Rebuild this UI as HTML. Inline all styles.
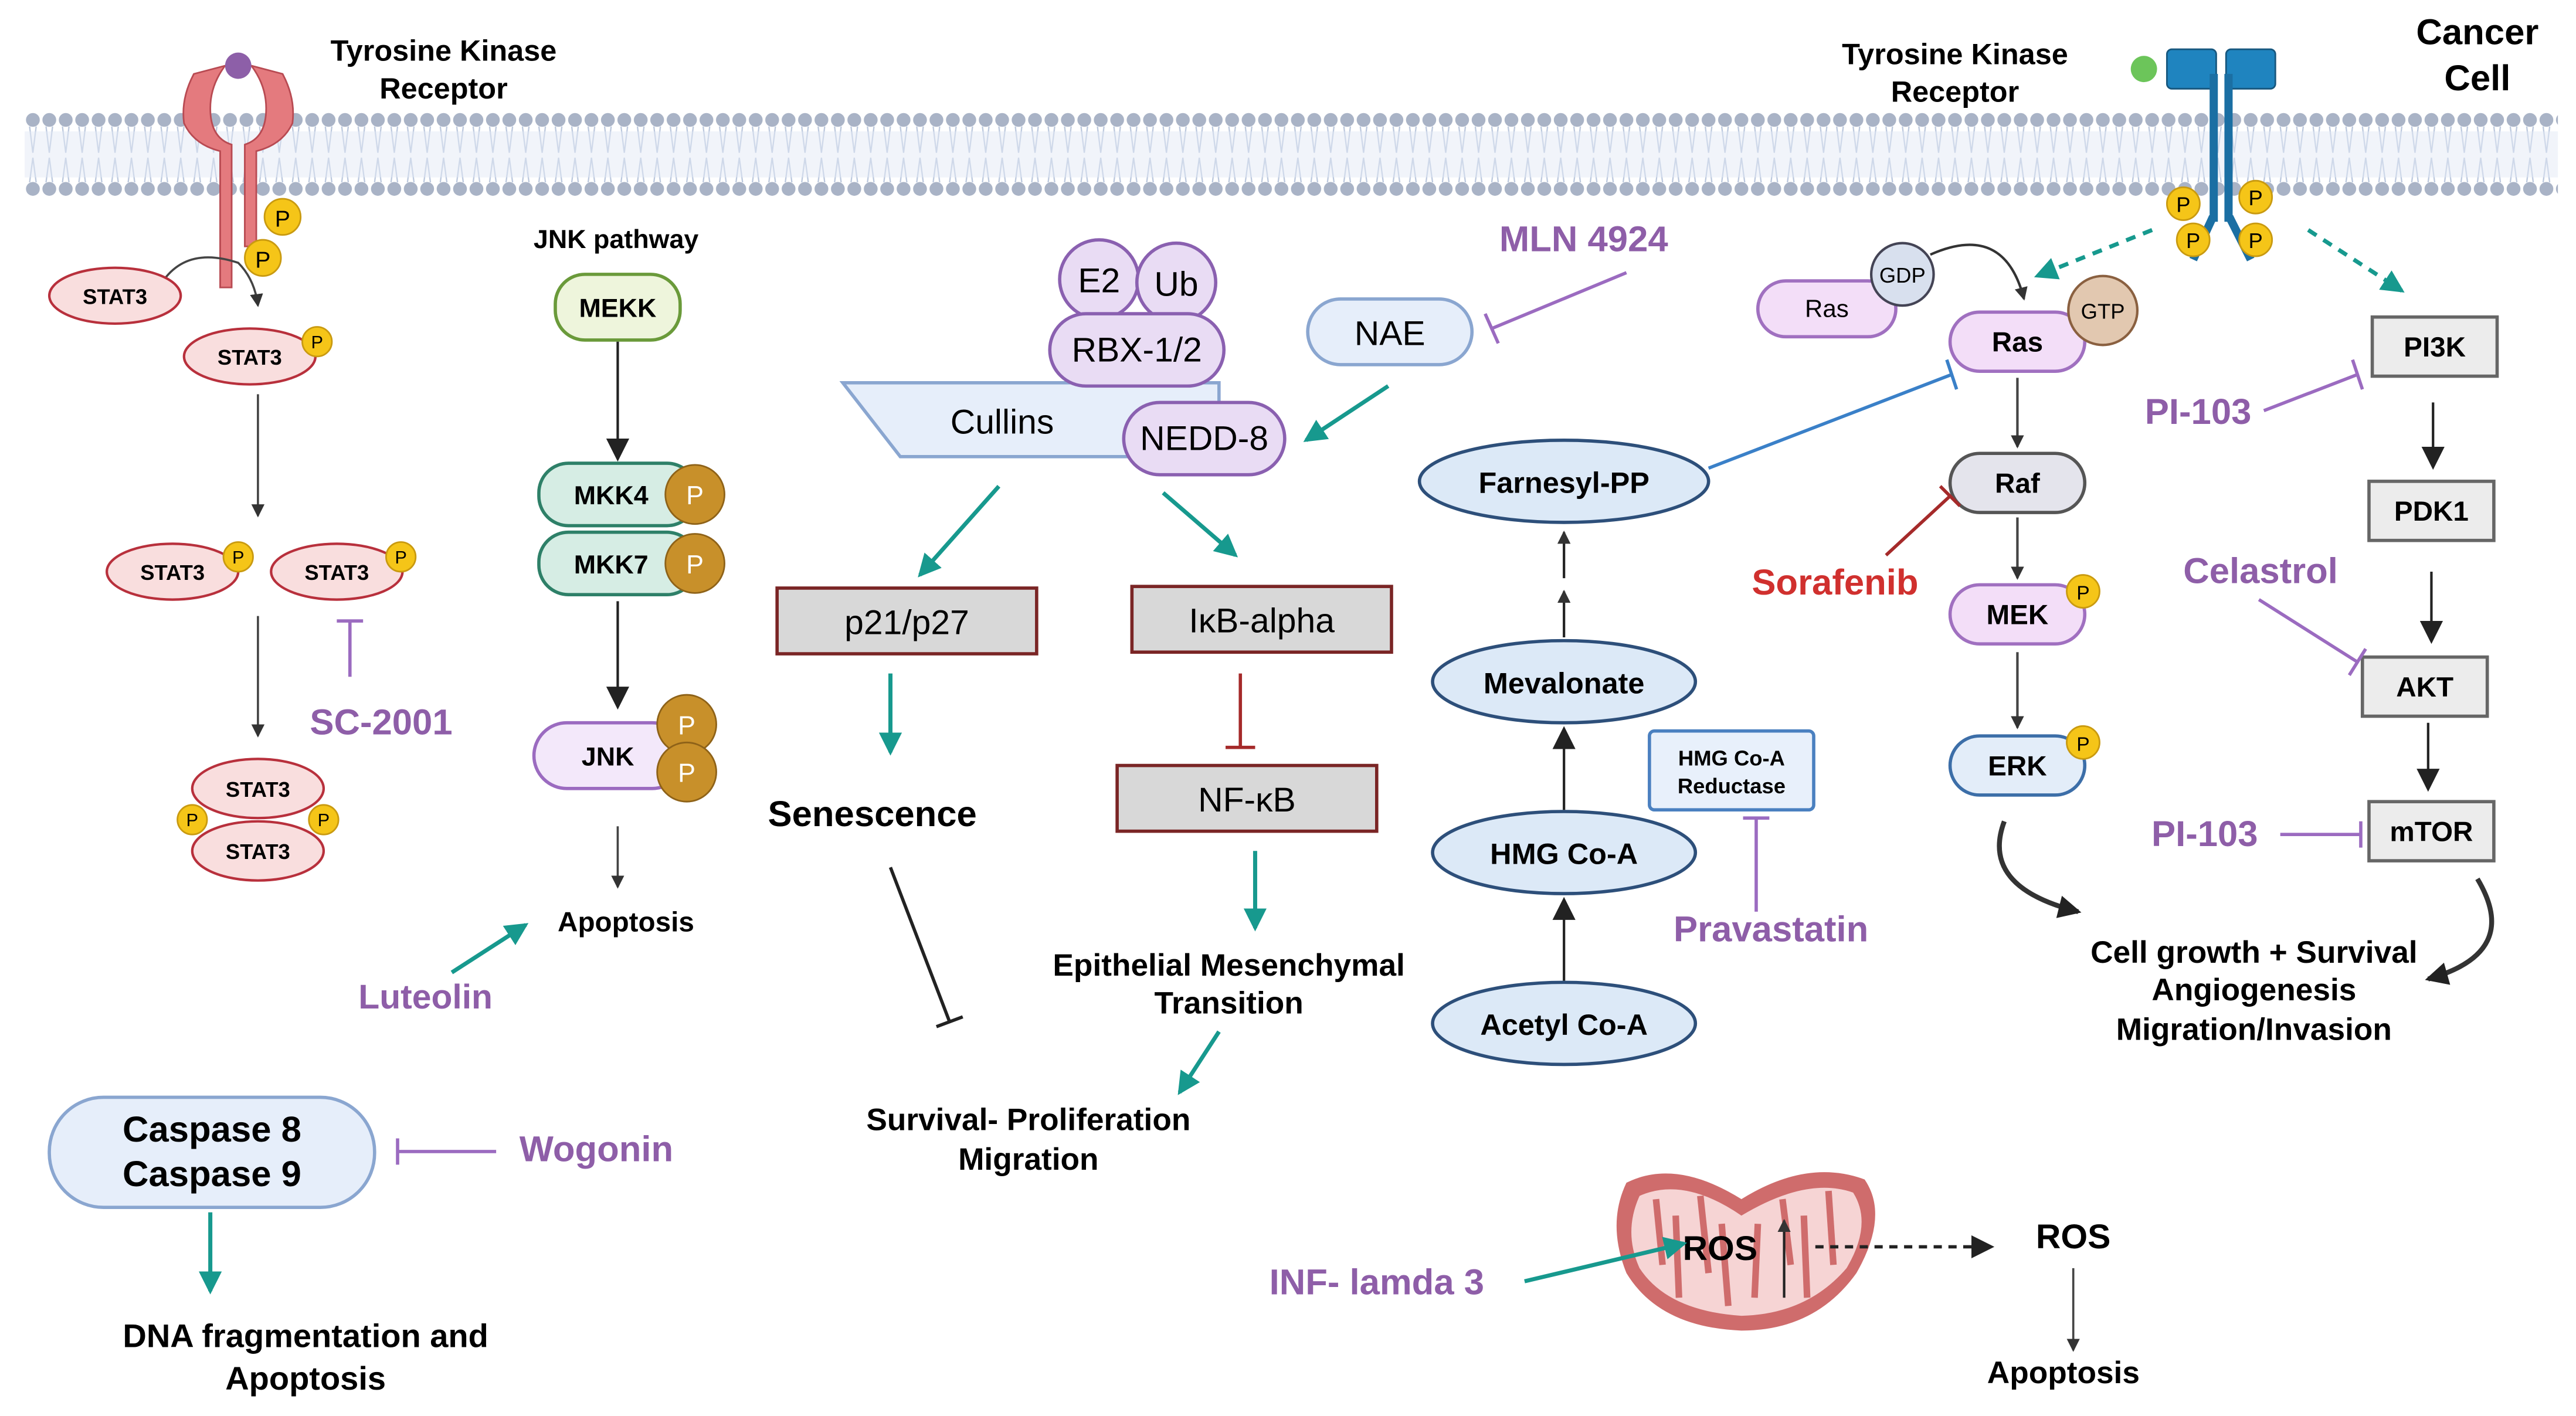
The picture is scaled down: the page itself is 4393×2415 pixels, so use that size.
<!DOCTYPE html>
<html><head><meta charset="utf-8"><style>
html,body{margin:0;padding:0;background:#fff;}
svg{display:block;}
text{font-family:"Liberation Sans",sans-serif;font-weight:bold;}
</style></head><body>
<svg width="4393" height="2415" viewBox="0 0 1568 862" xmlns="http://www.w3.org/2000/svg">
<defs>
<pattern id="dots" x="15" y="0" width="10" height="862" patternUnits="userSpaceOnUse">
<circle cx="5" cy="73" r="4.2" fill="#a9b3c6"/>
<circle cx="5" cy="115" r="4.2" fill="#a9b3c6"/>
<path d="M3 77 L5 93 M7 77 L5 93 M3 111 L5 96 M7 111 L5 96" stroke="#b9c6dc" stroke-width="0.8"/>
</pattern>
<marker id="ab" markerWidth="8" markerHeight="8" refX="7" refY="4" orient="auto" markerUnits="userSpaceOnUse"><path d="M0 0 L8 4 L0 8z" fill="#333"/></marker>
<marker id="at" markerWidth="14" markerHeight="14" refX="12" refY="7" orient="auto" markerUnits="userSpaceOnUse"><path d="M0 0 L14 7 L0 14z" fill="#17998e"/></marker>
<marker id="abig" markerWidth="14" markerHeight="14" refX="12" refY="7" orient="auto" markerUnits="userSpaceOnUse"><path d="M0 0 L14 7 L0 14z" fill="#222"/></marker>
</defs>
<rect x="15" y="66" width="1542" height="56" fill="url(#dots)"/>
<rect x="15" y="80" width="1542" height="28" fill="#e3eaf6" opacity="0.5"/>

<!-- Left receptor -->
<path d="M118 45 Q110 60 112 75 Q118 88 134 92 L134 175 L141 175 L141 88 Q128 84 128 66 Q128 52 137 40 Z" fill="#e47a7e" stroke="#b84a52" stroke-width="1"/>
<path d="M172 45 Q180 60 178 75 Q172 88 156 92 L156 150 L149 150 L149 88 Q162 84 162 66 Q162 52 153 40 Z" fill="#e47a7e" stroke="#b84a52" stroke-width="1"/>
<circle cx="145" cy="40" r="8" fill="#8d5fa8"/>
<text x="270" y="37" font-size="18" text-anchor="middle">Tyrosine Kinase</text>
<text x="270" y="60" font-size="18" text-anchor="middle">Receptor</text>
<circle cx="172" cy="132" r="11" fill="#f5c518" stroke="#c99a10"/><text x="172" y="138" font-size="14" font-weight="normal" text-anchor="middle" style="font-weight:normal">P</text>
<circle cx="160" cy="157" r="11" fill="#f5c518" stroke="#c99a10"/><text x="160" y="163" font-size="14" text-anchor="middle" style="font-weight:normal">P</text>
<path d="M100 170 Q115 150 145 160 Q155 170 157 186" fill="none" stroke="#444" stroke-width="1.3" marker-end="url(#ab)"/>
<g font-size="13">
<ellipse cx="70" cy="180" rx="40" ry="17" fill="#f9dede" stroke="#b8303c" stroke-width="1.5"/><text x="70" y="185" text-anchor="middle">STAT3</text>
<ellipse cx="152" cy="217" rx="40" ry="17" fill="#f9dede" stroke="#b8303c" stroke-width="1.5"/><text x="152" y="222" text-anchor="middle">STAT3</text>
<ellipse cx="105" cy="348" rx="40" ry="17" fill="#f9dede" stroke="#b8303c" stroke-width="1.5"/><text x="105" y="353" text-anchor="middle">STAT3</text>
<ellipse cx="205" cy="348" rx="40" ry="17" fill="#f9dede" stroke="#b8303c" stroke-width="1.5"/><text x="205" y="353" text-anchor="middle">STAT3</text>
<ellipse cx="157" cy="480" rx="40" ry="18" fill="#f9dede" stroke="#b8303c" stroke-width="1.5"/><text x="157" y="485" text-anchor="middle">STAT3</text>
<ellipse cx="157" cy="518" rx="40" ry="18" fill="#f9dede" stroke="#b8303c" stroke-width="1.5"/><text x="157" y="523" text-anchor="middle">STAT3</text>
</g>
<g font-size="11" style="font-weight:normal">
<circle cx="193" cy="208" r="9" fill="#f5c518" stroke="#c99a10"/><text x="193" y="212" text-anchor="middle" style="font-weight:normal">P</text>
<circle cx="145" cy="339" r="9" fill="#f5c518" stroke="#c99a10"/><text x="145" y="343" text-anchor="middle" style="font-weight:normal">P</text>
<circle cx="244" cy="339" r="9" fill="#f5c518" stroke="#c99a10"/><text x="244" y="343" text-anchor="middle" style="font-weight:normal">P</text>
<circle cx="117" cy="499" r="9" fill="#f5c518" stroke="#c99a10"/><text x="117" y="503" text-anchor="middle" style="font-weight:normal">P</text>
<circle cx="197" cy="499" r="9" fill="#f5c518" stroke="#c99a10"/><text x="197" y="503" text-anchor="middle" style="font-weight:normal">P</text>
</g>
<line x1="157" y1="240" x2="157" y2="314" stroke="#444" stroke-width="1.3" marker-end="url(#ab)"/>
<line x1="157" y1="375" x2="157" y2="448" stroke="#444" stroke-width="1.3" marker-end="url(#ab)"/>
<line x1="213" y1="412" x2="213" y2="378" stroke="#9b6bc0" stroke-width="2"/><line x1="205" y1="378" x2="221" y2="378" stroke="#9b6bc0" stroke-width="2"/>
<text x="232" y="447" font-size="22" fill="#8e5ea8" text-anchor="middle">SC-2001</text>

<!-- JNK -->
<text x="375" y="151" font-size="16" text-anchor="middle">JNK pathway</text>
<rect x="338" y="167" width="76" height="40" rx="18" fill="#eef5dc" stroke="#6a9a3a" stroke-width="2"/><text x="376" y="193" font-size="16" text-anchor="middle">MEKK</text>
<line x1="376" y1="208" x2="376" y2="279" stroke="#222" stroke-width="1.5" marker-end="url(#abig)"/>
<rect x="328" y="282" width="96" height="38" rx="18" fill="#d6ede4" stroke="#2e8068" stroke-width="2"/><text x="372" y="307" font-size="16" text-anchor="middle">MKK4</text>
<rect x="328" y="324" width="96" height="38" rx="18" fill="#d6ede4" stroke="#2e8068" stroke-width="2"/><text x="372" y="349" font-size="16" text-anchor="middle">MKK7</text>
<g font-size="16" style="font-weight:normal" fill="#fff">
<circle cx="423" cy="301" r="18" fill="#c8902a" stroke="#8e6218"/><text x="423" y="307" text-anchor="middle" fill="#fff" style="font-weight:normal">P</text>
<circle cx="423" cy="343" r="18" fill="#c8902a" stroke="#8e6218"/><text x="423" y="349" text-anchor="middle" fill="#fff" style="font-weight:normal">P</text>
</g>
<line x1="376" y1="366" x2="376" y2="430" stroke="#222" stroke-width="1.5" marker-end="url(#abig)"/>
<rect x="325" y="440" width="92" height="40" rx="20" fill="#f3e8fa" stroke="#9b6bc0" stroke-width="2"/><text x="370" y="466" font-size="16" text-anchor="middle">JNK</text>
<circle cx="418" cy="441" r="18" fill="#c8902a" stroke="#8e6218"/><text x="418" y="447" font-size="16" text-anchor="middle" fill="#fff" style="font-weight:normal">P</text>
<circle cx="418" cy="470" r="18" fill="#c8902a" stroke="#8e6218"/><text x="418" y="476" font-size="16" text-anchor="middle" fill="#fff" style="font-weight:normal">P</text>
<line x1="376" y1="503" x2="376" y2="540" stroke="#444" stroke-width="1.3" marker-end="url(#ab)"/>
<text x="381" y="567" font-size="17" text-anchor="middle">Apoptosis</text>
<text x="259" y="614" font-size="21" fill="#8e5ea8" text-anchor="middle">Luteolin</text>
<line x1="275" y1="592" x2="320" y2="563" stroke="#17998e" stroke-width="2.5" marker-end="url(#at)"/>

<!-- Caspase -->
<rect x="30" y="668" width="198" height="67" rx="33" fill="#e6eefa" stroke="#8aa6d0" stroke-width="2"/>
<text x="129" y="695" font-size="22" text-anchor="middle">Caspase 8</text>
<text x="129" y="722" font-size="22" text-anchor="middle">Caspase 9</text>
<line x1="302" y1="701" x2="242" y2="701" stroke="#9b6bc0" stroke-width="2"/><line x1="242" y1="693" x2="242" y2="709" stroke="#9b6bc0" stroke-width="2"/>
<text x="363" y="707" font-size="22" fill="#8e5ea8" text-anchor="middle">Wogonin</text>
<line x1="128" y1="738" x2="128" y2="786" stroke="#17998e" stroke-width="2.5" marker-end="url(#at)"/>
<text x="186" y="820" font-size="20" text-anchor="middle">DNA fragmentation and</text>
<text x="186" y="846" font-size="20" text-anchor="middle">Apoptosis</text>

<!-- Neddylation -->
<path d="M513 233 L742 233 L742 278 L548 278 Z" fill="#e6eefa" stroke="#8aa6d0" stroke-width="2"/>
<text x="610" y="264" font-size="21" text-anchor="middle" style="font-weight:normal">Cullins</text>
<circle cx="669" cy="170" r="24" fill="#e9dcf4" stroke="#8a60b0" stroke-width="2"/><text x="669" y="178" font-size="21" text-anchor="middle" style="font-weight:normal">E2</text>
<circle cx="716" cy="172" r="24" fill="#e9dcf4" stroke="#8a60b0" stroke-width="2"/><text x="716" y="180" font-size="21" text-anchor="middle" style="font-weight:normal">Ub</text>
<rect x="639" y="191" width="106" height="44" rx="22" fill="#e9dcf4" stroke="#8a60b0" stroke-width="2"/><text x="692" y="220" font-size="21" text-anchor="middle" style="font-weight:normal">RBX-1/2</text>
<rect x="684" y="245" width="98" height="44" rx="22" fill="#e9dcf4" stroke="#8a60b0" stroke-width="2"/><text x="733" y="274" font-size="21" text-anchor="middle" style="font-weight:normal">NEDD-8</text>
<rect x="796" y="182" width="100" height="40" rx="20" fill="#e6eefa" stroke="#8aa6d0" stroke-width="2"/><text x="846" y="210" font-size="21" text-anchor="middle" style="font-weight:normal">NAE</text>
<text x="964" y="153" font-size="22" fill="#8e5ea8" text-anchor="middle">MLN 4924</text>
<line x1="990" y1="166" x2="908" y2="200" stroke="#9b6bc0" stroke-width="2"/><line x1="904" y1="191" x2="912" y2="209" stroke="#9b6bc0" stroke-width="2"/>
<line x1="845" y1="235" x2="795" y2="268" stroke="#17998e" stroke-width="2.5" marker-end="url(#at)"/>
<line x1="608" y1="296" x2="560" y2="350" stroke="#17998e" stroke-width="2.5" marker-end="url(#at)"/>
<line x1="708" y1="300" x2="752" y2="338" stroke="#17998e" stroke-width="2.5" marker-end="url(#at)"/>
<rect x="473" y="358" width="158" height="40" fill="#d8d8d8" stroke="#7a2525" stroke-width="2"/><text x="552" y="386" font-size="21" text-anchor="middle" style="font-weight:normal">p21/p27</text>
<rect x="689" y="357" width="158" height="40" fill="#d8d8d8" stroke="#7a2525" stroke-width="2"/><text x="768" y="385" font-size="21" text-anchor="middle" style="font-weight:normal">IκB-alpha</text>
<rect x="680" y="466" width="158" height="40" fill="#d8d8d8" stroke="#7a2525" stroke-width="2"/><text x="759" y="494" font-size="21" text-anchor="middle" style="font-weight:normal">NF-κB</text>
<line x1="542" y1="410" x2="542" y2="458" stroke="#17998e" stroke-width="2.5" marker-end="url(#at)"/>
<line x1="755" y1="410" x2="755" y2="455" stroke="#a52a2a" stroke-width="2"/><line x1="746" y1="455" x2="764" y2="455" stroke="#a52a2a" stroke-width="2"/>
<text x="531" y="503" font-size="22" text-anchor="middle">Senescence</text>
<line x1="542" y1="528" x2="578" y2="622" stroke="#222" stroke-width="2"/><line x1="570" y1="625" x2="586" y2="619" stroke="#222" stroke-width="2"/>
<line x1="764" y1="518" x2="764" y2="565" stroke="#17998e" stroke-width="2.5" marker-end="url(#at)"/>
<text x="748" y="594" font-size="19" text-anchor="middle">Epithelial Mesenchymal</text>
<text x="748" y="617" font-size="19" text-anchor="middle">Transition</text>
<line x1="742" y1="628" x2="718" y2="665" stroke="#17998e" stroke-width="2.5" marker-end="url(#at)"/>
<text x="626" y="688" font-size="19" text-anchor="middle">Survival- Proliferation</text>
<text x="626" y="712" font-size="19" text-anchor="middle">Migration</text>

<!-- Mevalonate -->
<g fill="#dce9f7" stroke="#2d4f7a" stroke-width="2">
<ellipse cx="952" cy="293" rx="88" ry="25"/><ellipse cx="952" cy="415" rx="80" ry="25"/><ellipse cx="952" cy="519" rx="80" ry="25"/><ellipse cx="952" cy="623" rx="80" ry="25"/>
</g>
<g font-size="18" text-anchor="middle">
<text x="952" y="300">Farnesyl-PP</text><text x="952" y="422">Mevalonate</text><text x="952" y="526">HMG Co-A</text><text x="952" y="630">Acetyl Co-A</text>
</g>
<line x1="952" y1="597" x2="952" y2="548" stroke="#222" stroke-width="1.5" marker-end="url(#abig)"/>
<line x1="952" y1="493" x2="952" y2="444" stroke="#222" stroke-width="1.5" marker-end="url(#abig)"/>
<line x1="952" y1="388" x2="952" y2="360" stroke="#222" stroke-width="1.5" marker-end="url(#ab)"/>
<line x1="952" y1="352" x2="952" y2="324" stroke="#222" stroke-width="1.5" marker-end="url(#ab)"/>
<rect x="1004" y="445" width="100" height="48" rx="3" fill="#e8f0fb" stroke="#4a80c0" stroke-width="2"/>
<text x="1054" y="466" font-size="13" text-anchor="middle">HMG Co-A</text><text x="1054" y="483" font-size="13" text-anchor="middle">Reductase</text>
<line x1="1069" y1="555" x2="1069" y2="498" stroke="#9b6bc0" stroke-width="2"/><line x1="1061" y1="498" x2="1077" y2="498" stroke="#9b6bc0" stroke-width="2"/>
<text x="1078" y="573" font-size="22" fill="#8e5ea8" text-anchor="middle">Pravastatin</text>
<line x1="1040" y1="285" x2="1188" y2="228" stroke="#3a80c8" stroke-width="2"/><line x1="1185" y1="219" x2="1191" y2="237" stroke="#3a80c8" stroke-width="2"/>

<!-- Ras/Raf -->
<rect x="1070" y="171" width="84" height="34" rx="17" fill="#f3def8" stroke="#a070c0" stroke-width="2"/><text x="1112" y="193" font-size="15" text-anchor="middle" style="font-weight:normal">Ras</text>
<circle cx="1158" cy="167" r="19" fill="#d8e0ee" stroke="#445" stroke-width="1.5"/><text x="1158" y="172" font-size="13" text-anchor="middle" style="font-weight:normal">GDP</text>
<path d="M1175 155 Q1220 135 1232 182" fill="none" stroke="#333" stroke-width="1.5" marker-end="url(#ab)"/>
<rect x="1187" y="190" width="82" height="36" rx="18" fill="#f3def8" stroke="#a070c0" stroke-width="2"/><text x="1228" y="214" font-size="17" text-anchor="middle">Ras</text>
<circle cx="1280" cy="189" r="21" fill="#e2c8b0" stroke="#8a6040" stroke-width="1.5"/><text x="1280" y="194" font-size="13" text-anchor="middle" style="font-weight:normal">GTP</text>
<line x1="1228" y1="230" x2="1228" y2="272" stroke="#444" stroke-width="1.5" marker-end="url(#ab)"/>
<rect x="1187" y="276" width="82" height="36" rx="18" fill="#e4e4ec" stroke="#555" stroke-width="2"/><text x="1228" y="300" font-size="17" text-anchor="middle">Raf</text>
<line x1="1228" y1="315" x2="1228" y2="352" stroke="#444" stroke-width="1.5" marker-end="url(#ab)"/>
<rect x="1187" y="356" width="82" height="36" rx="18" fill="#f3def8" stroke="#a070c0" stroke-width="2"/><text x="1228" y="380" font-size="17" text-anchor="middle">MEK</text>
<circle cx="1268" cy="360" r="10" fill="#f5c518" stroke="#c99a10"/><text x="1268" y="365" font-size="12" text-anchor="middle" style="font-weight:normal">P</text>
<line x1="1228" y1="397" x2="1228" y2="443" stroke="#444" stroke-width="1.5" marker-end="url(#ab)"/>
<rect x="1187" y="448" width="82" height="36" rx="18" fill="#e3edf9" stroke="#3c6ea8" stroke-width="2"/><text x="1228" y="472" font-size="17" text-anchor="middle">ERK</text>
<circle cx="1268" cy="452" r="10" fill="#f5c518" stroke="#c99a10"/><text x="1268" y="457" font-size="12" text-anchor="middle" style="font-weight:normal">P</text>
<text x="1117" y="362" font-size="22" fill="#d0302e" text-anchor="middle">Sorafenib</text>
<line x1="1148" y1="338" x2="1187" y2="302" stroke="#a52a2a" stroke-width="2"/><line x1="1181" y1="296" x2="1193" y2="308" stroke="#a52a2a" stroke-width="2"/>
<path d="M1220 500 Q1205 540 1265 555" fill="none" stroke="#333" stroke-width="3" marker-end="url(#abig)"/>

<!-- Right receptor -->
<rect x="1319" y="30" width="30" height="24" rx="3" fill="#1f84bf" stroke="#17577e"/>
<rect x="1355" y="30" width="30" height="24" rx="3" fill="#1f84bf" stroke="#17577e"/>
<rect x="1345" y="45" width="5" height="90" fill="#1b6fa3"/><rect x="1354" y="45" width="5" height="90" fill="#1b6fa3"/>
<path d="M1347 132 L1335 158 M1357 132 L1370 158" stroke="#1b6fa3" stroke-width="5"/>
<circle cx="1305" cy="42" r="8" fill="#6cc55a"/>
<g font-size="13">
<circle cx="1329" cy="124" r="10" fill="#f5c518" stroke="#c99a10"/><text x="1329" y="129" text-anchor="middle" style="font-weight:normal">P</text>
<circle cx="1373" cy="120" r="10" fill="#f5c518" stroke="#c99a10"/><text x="1373" y="125" text-anchor="middle" style="font-weight:normal">P</text>
<circle cx="1335" cy="146" r="10" fill="#f5c518" stroke="#c99a10"/><text x="1335" y="151" text-anchor="middle" style="font-weight:normal">P</text>
<circle cx="1373" cy="146" r="10" fill="#f5c518" stroke="#c99a10"/><text x="1373" y="151" text-anchor="middle" style="font-weight:normal">P</text>
</g>
<text x="1190" y="39" font-size="18" text-anchor="middle">Tyrosine Kinase</text>
<text x="1190" y="62" font-size="18" text-anchor="middle">Receptor</text>
<text x="1508" y="27" font-size="22" text-anchor="middle">Cancer</text>
<text x="1508" y="55" font-size="22" text-anchor="middle">Cell</text>
<line x1="1310" y1="140" x2="1240" y2="168" stroke="#17998e" stroke-width="2.5" stroke-dasharray="6 5" marker-end="url(#at)"/>
<line x1="1405" y1="140" x2="1462" y2="177" stroke="#17998e" stroke-width="2.5" stroke-dasharray="6 5" marker-end="url(#at)"/>

<!-- PI3K -->
<g fill="#ececec" stroke="#666" stroke-width="2">
<rect x="1444" y="193" width="76" height="36"/><rect x="1442" y="293" width="76" height="36"/><rect x="1438" y="400" width="76" height="36"/><rect x="1442" y="488" width="76" height="36"/>
</g>
<g font-size="17" text-anchor="middle">
<text x="1482" y="217">PI3K</text><text x="1480" y="317">PDK1</text><text x="1476" y="424">AKT</text><text x="1480" y="512">mTOR</text>
</g>
<line x1="1481" y1="245" x2="1481" y2="284" stroke="#222" stroke-width="1.5" marker-end="url(#abig)"/>
<line x1="1480" y1="348" x2="1480" y2="390" stroke="#222" stroke-width="1.5" marker-end="url(#abig)"/>
<line x1="1478" y1="440" x2="1478" y2="480" stroke="#222" stroke-width="1.5" marker-end="url(#abig)"/>
<text x="1338" y="258" font-size="22" fill="#8e5ea8" text-anchor="middle">PI-103</text>
<line x1="1378" y1="250" x2="1435" y2="228" stroke="#9b6bc0" stroke-width="2"/><line x1="1432" y1="219" x2="1438" y2="237" stroke="#9b6bc0" stroke-width="2"/>
<text x="1376" y="355" font-size="22" fill="#8e5ea8" text-anchor="middle">Celastrol</text>
<line x1="1375" y1="365" x2="1435" y2="403" stroke="#9b6bc0" stroke-width="2"/><line x1="1430" y1="411" x2="1440" y2="395" stroke="#9b6bc0" stroke-width="2"/>
<text x="1342" y="515" font-size="22" fill="#8e5ea8" text-anchor="middle">PI-103</text>
<line x1="1388" y1="508" x2="1437" y2="508" stroke="#9b6bc0" stroke-width="2"/><line x1="1437" y1="500" x2="1437" y2="516" stroke="#9b6bc0" stroke-width="2"/>
<path d="M1508 535 Q1535 580 1478 596" fill="none" stroke="#333" stroke-width="3" marker-end="url(#abig)"/>
<text x="1372" y="586" font-size="19" text-anchor="middle">Cell growth + Survival</text>
<text x="1372" y="609" font-size="19" text-anchor="middle">Angiogenesis</text>
<text x="1372" y="633" font-size="19" text-anchor="middle">Migration/Invasion</text>

<!-- Mitochondrion -->
<path d="M990 720 Q1020 705 1060 730 Q1100 705 1135 718 Q1150 740 1130 775 Q1105 810 1060 810 Q1010 808 990 775 Q978 745 990 720 Z" fill="#cf6c6c"/>
<path d="M998 728 Q1025 716 1060 740 Q1100 716 1128 726 Q1140 745 1124 772 Q1100 800 1060 801 Q1015 798 998 772 Q988 750 998 728 Z" fill="#f6d4d4"/>
<g stroke="#cf6c6c" stroke-width="4" fill="none">
<path d="M1008 730 L1012 770"/><path d="M1022 790 L1020 740"/><path d="M1035 728 L1040 775"/><path d="M1052 795 L1048 745"/><path d="M1070 745 L1068 790"/><path d="M1085 730 L1090 770"/><path d="M1100 790 L1098 740"/><path d="M1113 725 L1116 770"/>
</g>
<text x="1047" y="767" font-size="21" text-anchor="middle">ROS</text>
<line x1="1086" y1="790" x2="1086" y2="743" stroke="#222" stroke-width="1.5" marker-end="url(#ab)"/>
<line x1="1105" y1="759" x2="1212" y2="759" stroke="#222" stroke-width="2" stroke-dasharray="5 4" marker-end="url(#abig)"/>
<text x="838" y="788" font-size="22" fill="#8e5ea8" text-anchor="middle">INF- lamda 3</text>
<line x1="928" y1="780" x2="1025" y2="757" stroke="#17998e" stroke-width="2.5" marker-end="url(#at)"/>
<text x="1262" y="760" font-size="21" text-anchor="middle">ROS</text>
<line x1="1262" y1="772" x2="1262" y2="822" stroke="#444" stroke-width="1.3" marker-end="url(#ab)"/>
<text x="1256" y="842" font-size="19" text-anchor="middle">Apoptosis</text>
</svg>
</body></html>
